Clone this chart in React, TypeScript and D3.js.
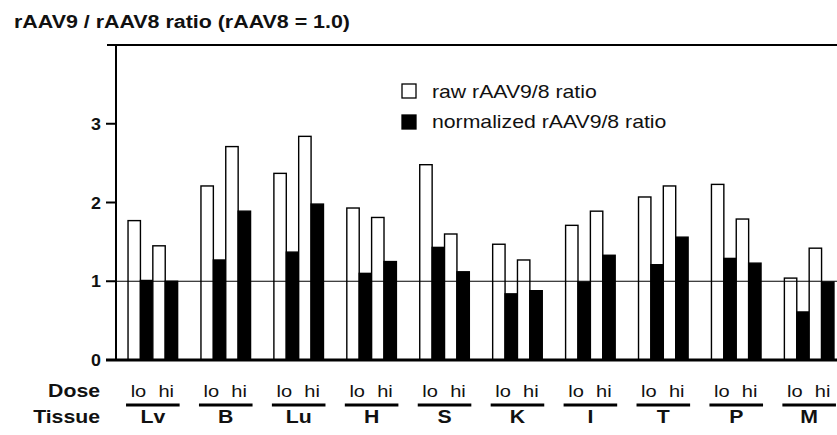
import React from 'react'
import * as d3 from 'd3'

const tissues = ['Lv', 'B', 'Lu', 'H', 'S', 'K', 'I', 'T', 'P', 'M']
const doses = ['lo', 'hi']
// raw rAAV9/8 ratio, per tissue: [lo, hi]
const rawLo = [1.77, 2.21, 2.37, 1.93, 2.48, 1.47, 1.71, 2.07, 2.23, 1.04]
const rawHi = [1.45, 2.71, 2.84, 1.81, 1.6, 1.27, 1.89, 2.21, 1.79, 1.42]
// normalized rAAV9/8 ratio
const normLo = [1.01, 1.27, 1.37, 1.1, 1.43, 0.84, 0.99, 1.21, 1.29, 0.61]
const normHi = [1.0, 1.89, 1.98, 1.25, 1.12, 0.88, 1.33, 1.56, 1.23, 0.99]
const yTicks = [0, 1, 2, 3]

const W = 837
const H = 435
const font = '"Liberation Sans", Arial, Helvetica, sans-serif'
const SX = 1.18 // the figure is a bit stretched sideways

type TProps = { x: number; y: number; size: number; bold?: boolean; anchor?: string; sx?: number; dy?: string; children: React.ReactNode }
const SText = ({ x, y, size, bold, anchor = 'start', sx = SX, dy, children }: TProps) => (
  <text
    transform={`translate(${x},${y}) scale(${sx},1)`}
    dy={dy}
    textAnchor={anchor}
    fontSize={size}
    fontWeight={bold ? 'bold' : 'normal'}
    fill="#111"
  >
    {children}
  </text>
)

export default function App() {
  const x = d3.scaleBand<string>().domain(tissues).range([116, 846]).paddingInner(0.32).paddingOuter(0.165)
  const sub = d3.scaleBand<string>().domain(['lo-raw', 'lo-norm', 'hi-raw', 'hi-norm']).range([0, x.bandwidth()])
  const y = d3.scaleLinear().domain([0, 4]).range([360, 45])

  const bars = tissues.flatMap((t, i) => [
    { t, key: 'lo-raw', v: rawLo[i], raw: true },
    { t, key: 'lo-norm', v: normLo[i], raw: false },
    { t, key: 'hi-raw', v: rawHi[i], raw: true },
    { t, key: 'hi-norm', v: normHi[i], raw: false },
  ])

  return (
    <svg width={W} height={H} style={{ position: 'absolute', left: 0, top: 0, background: '#fff' }} fontFamily={font}>
      <rect width={W} height={H} fill="#fff" />
      <SText x={14} y={28} size={18} bold sx={1.19}>rAAV9 / rAAV8 ratio (rAAV8 = 1.0)</SText>

      {/* bars */}
      {bars.map((b, i) => (
        <rect
          key={i}
          x={(x(b.t) ?? 0) + (sub(b.key) ?? 0)}
          y={y(b.v)}
          width={sub.bandwidth()}
          height={y(0) - y(b.v)}
          fill={b.raw ? '#fff' : '#000'}
          stroke="#000"
          strokeWidth={1.4}
        />
      ))}

      {/* reference line at 1 */}
      <line x1={116} x2={W} y1={y(1)} y2={y(1)} stroke="#000" strokeWidth={1.2} />

      {/* frame */}
      <line x1={107} x2={W} y1={y(4)} y2={y(4)} stroke="#000" strokeWidth={2} />
      <line x1={116} x2={116} y1={y(4)} y2={y(0)} stroke="#000" strokeWidth={2} />
      <line x1={106} x2={W} y1={y(0)} y2={y(0)} stroke="#000" strokeWidth={3} />
      {yTicks.map((t) => (
        <g key={t}>
          <line x1={106} x2={116} y1={y(t)} y2={y(t)} stroke="#000" strokeWidth={2} />
          <SText x={101} y={y(t)} dy="0.36em" anchor="end" size={17} bold sx={1.05}>{t}</SText>
        </g>
      ))}

      {/* legend */}
      <rect x={402} y={84} width={14} height={14} fill="#fff" stroke="#000" strokeWidth={1.3} />
      <SText x={432} y={98} size={18}>raw rAAV9/8 ratio</SText>
      <rect x={402} y={115} width={14} height={14} fill="#000" stroke="#000" strokeWidth={1.3} />
      <SText x={432} y={128} size={18}>normalized rAAV9/8 ratio</SText>

      {/* dose / tissue labels */}
      <SText x={100} y={397} anchor="end" size={18} bold>Dose</SText>
      <SText x={100} y={423} anchor="end" size={18} bold>Tissue</SText>
      {tissues.map((t) => {
        const x0 = x(t) ?? 0
        const bw = sub.bandwidth()
        return (
          <g key={t}>
            {doses.map((d, j) => (
              <SText key={d} x={x0 + (sub(d + '-raw') ?? 0) + bw + (j === 0 ? -2 : 1)} y={397} anchor="middle" size={17}>{d}</SText>
            ))}
            <line x1={x0 - 2} x2={x0 + x.bandwidth() + 2} y1={405} y2={405} stroke="#000" strokeWidth={3} />
            <SText x={x0 + x.bandwidth() / 2} y={423} anchor="middle" size={18} bold>{t}</SText>
          </g>
        )
      })}
    </svg>
  )
}
